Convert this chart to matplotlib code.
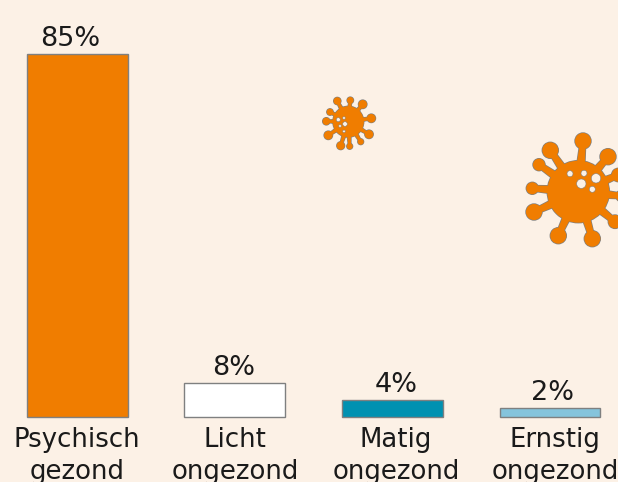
import matplotlib
matplotlib.use("Agg")
import math
import matplotlib.pyplot as plt
from matplotlib.patches import Circle, Polygon
from matplotlib.transforms import ScaledTranslation

categories = ["Psychisch\ngezond", "Licht\nongezond", "Matig\nongezond", "Ernstig\nongezond"]
values = [85, 8, 4, 2]
bar_colors = ["#f07d00", "#ffffff", "#0091b1", "#85c4dc"]

# the labels in the picture do not sit exactly over the bars (pixels)
value_label_shift = [-7, -1, 3.5, 3]
tick_label_shift = [0, 0.5, 3.5, 5]

background = "#fcf1e6"
orange = "#f07d00"
edge_gray = "#7f8080"
text_color = "#1a1a1a"

# decorative virus icons, in picture pixels: x, y, radius
small_body = (348.3, 121.7, 15.5)
small_bulbs = [(350.3, 100.3, 3.3), (337.3, 101, 3.7), (362.7, 104.3, 4.3), (330, 112, 3.3),
               (371.3, 118.3, 4.3), (326.3, 121.3, 3.7), (328.3, 135.3, 4.3), (369, 134.3, 4.3),
               (340.7, 145.7, 4), (349.7, 146.3, 3), (360.7, 141.7, 3)]
small_holes = [(338.3, 119.7, 2), (344, 118, 1.3), (345, 124, 2.3), (340, 126, 1.3), (344, 131.3, 1.3)]
big_body = (578.3, 191.7, 31)
big_bulbs = [(583, 141, 8), (550.3, 150.3, 8), (539, 164.7, 6), (608, 156.7, 8), (618.3, 175, 6.7),
             (532.3, 188.3, 6), (534, 212, 8), (558.3, 235.7, 8), (592.3, 238.7, 8), (615, 221.7, 6.7),
             (622, 196, 6)]
big_holes = [(570, 173.7, 3), (584, 173.3, 3), (596, 178.3, 4.7), (581.3, 183.7, 4.7), (592.3, 189.3, 3)]


def stem_polygon(bx, by, x, y, base, tip, grow):
    """Tapered spike from the body centre out to a bulb"""
    angle = math.atan2(y - by, x - bx)
    nx, ny = -math.sin(angle), math.cos(angle)
    w0 = base + grow
    w1 = tip + grow
    return [(bx + nx * w0, by + ny * w0), (x + nx * w1, y + ny * w1),
            (x - nx * w1, y - ny * w1), (bx - nx * w0, by - ny * w0)]


def draw_virus(ax, body, bulbs, holes, base, tip, outline):
    bx, by, br = body
    # gray pass first, orange on top, so the outline only shows around the silhouette
    for z, color, grow in ((3, edge_gray, outline), (4, orange, 0)):
        ax.add_patch(Circle((bx, by), br + grow, fc=color, ec="none", zorder=z))
        for x, y, r in bulbs:
            ax.add_patch(Polygon(stem_polygon(bx, by, x, y, base, tip, grow), fc=color, ec="none", zorder=z))
            ax.add_patch(Circle((x, y), r + grow, fc=color, ec="none", zorder=z))
    for x, y, r in holes:
        ax.add_patch(Circle((x, y), r, fc=background, ec=edge_gray, lw=0.4, zorder=5))


fig = plt.figure(figsize=(6.18, 4.82), dpi=100, facecolor=background)
plt.rcParams["font.family"] = "DejaVu Sans"

ax = fig.add_axes([0, 65 / 482, 1, 417 / 482])
ax.set_facecolor("none")
ax.bar(range(4), values, width=0.64, color=bar_colors, edgecolor=edge_gray, linewidth=1, clip_on=False)
ax.set_xlim(-0.4897, 3.4317)
ax.set_ylim(0, 97.66)
for i, v in enumerate(values):
    ax.annotate("{}%".format(v), (i, v), xytext=(value_label_shift[i], 2), textcoords="offset pixels",
                ha="center", va="bottom", fontsize=19.5, color=text_color)
ax.set_xticks(range(4))
ax.set_xticklabels(categories, fontsize=18.7, color=text_color, linespacing=1.33)
ax.tick_params(axis="x", length=0, pad=7)
for label, shift in zip(ax.get_xticklabels(), tick_label_shift):
    label.set_transform(label.get_transform() + ScaledTranslation(shift / 100, 0, fig.dpi_scale_trans))
ax.set_yticks([])
for side in ax.spines.values():
    side.set_visible(False)

# overlay in picture pixels for the icons
icons = fig.add_axes([0, 0, 1, 1])
icons.set_xlim(0, 618)
icons.set_ylim(482, 0)
icons.axis("off")
draw_virus(icons, small_body, small_bulbs, small_holes, 2.8, 1.3, 0.6)
draw_virus(icons, big_body, big_bulbs, big_holes, 5.5, 2.8, 0.7)

fig.savefig("out.png", dpi=100, facecolor=background)
